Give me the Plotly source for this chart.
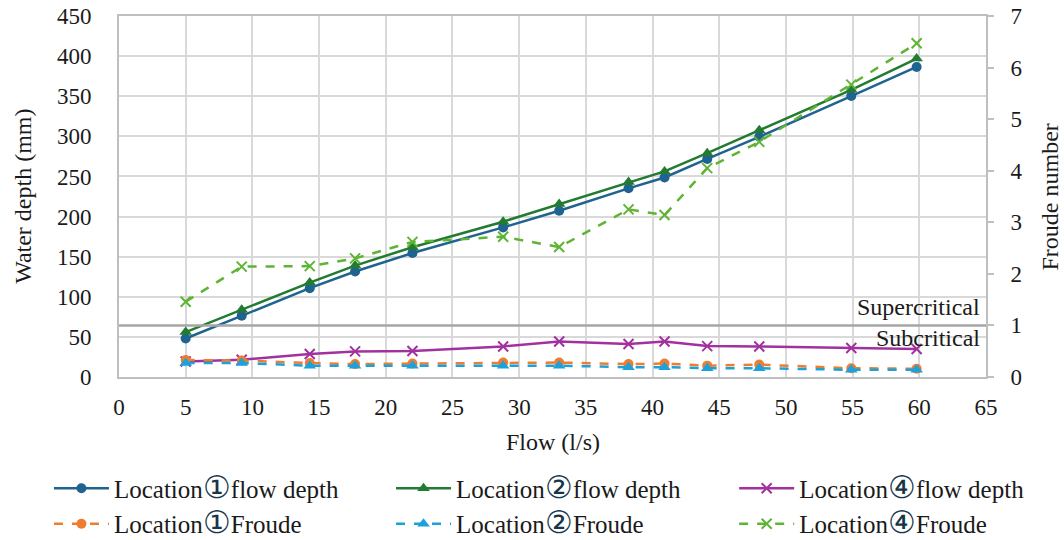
import plotly.graph_objects as go

flow = [5, 9.2, 14.3, 17.7, 22.0, 28.8, 33.0, 38.2, 40.9, 44.1, 48.0, 54.9, 59.8]

loc1_depth = [48, 76.5, 110.7, 131.5, 154.5, 186.5, 207.2, 235.2, 248.7, 271.8, 299.4, 350.2, 386.5]
loc2_depth = [56, 83.7, 117.7, 138.9, 161.8, 193.6, 215.7, 243.0, 256.3, 279.0, 307.7, 358.0, 397.0]
loc4_depth = [19.4, 21.5, 28.6, 31.9, 32.5, 38.1, 44.3, 41.1, 44.3, 38.5, 38.1, 36.1, 34.8]

loc1_froude = [0.33, 0.32, 0.27, 0.25, 0.26, 0.28, 0.28, 0.25, 0.26, 0.22, 0.24, 0.17, 0.16]
loc2_froude = [0.27, 0.27, 0.22, 0.22, 0.22, 0.22, 0.22, 0.19, 0.19, 0.17, 0.17, 0.14, 0.14]
loc4_froude = [1.46, 2.14, 2.15, 2.30, 2.62, 2.72, 2.52, 3.25, 3.14, 4.05, 4.56, 5.67, 6.47]

x_ticks = list(range(0, 70, 5))
depth_ticks = list(range(0, 500, 50))
froude_ticks = list(range(0, 8))

FONT = "'Liberation Serif', 'Times New Roman', 'DejaVu Serif', serif"
TXT = "#1a1a1a"


def circ(n):
    return ("Location<span style='font-size:31px;color:#17364a'>" + n + "</span>")


names = [
    circ("\u2460") + "flow depth",
    circ("\u2461") + "flow depth",
    circ("\u2463") + "flow depth",
    circ("\u2460") + "Froude",
    circ("\u2461") + "Froude",
    circ("\u2463") + "Froude",
]

fig = go.Figure()

fig.add_trace(go.Scatter(x=flow, y=loc1_depth, name=names[0], mode="lines+markers", legend="legend",
                         line=dict(color="#1f6391", width=2.5),
                         marker=dict(symbol="circle", size=10, color="#1f6391")))
fig.add_trace(go.Scatter(x=flow, y=loc2_depth, name=names[1], mode="lines+markers", legend="legend2",
                         line=dict(color="#237a31", width=2.5),
                         marker=dict(symbol="triangle-up", size=11, color="#237a31")))
fig.add_trace(go.Scatter(x=flow, y=loc4_depth, name=names[2], mode="lines+markers", legend="legend3",
                         line=dict(color="#a2319f", width=2.5),
                         marker=dict(symbol="x-thin-open", size=10,
                                     line=dict(color="#a2319f", width=2))))
fig.add_trace(go.Scatter(x=flow, y=loc1_froude, name=names[3], mode="lines+markers", yaxis="y2",
                         legend="legend",
                         line=dict(color="#ed7d31", width=2.5, dash="dash"),
                         marker=dict(symbol="circle", size=10, color="#ed7d31")))
fig.add_trace(go.Scatter(x=flow, y=loc2_froude, name=names[4], mode="lines+markers", yaxis="y2",
                         legend="legend2",
                         line=dict(color="#1ea1d8", width=2.5, dash="dash"),
                         marker=dict(symbol="triangle-up", size=11, color="#1ea1d8")))
fig.add_trace(go.Scatter(x=flow, y=loc4_froude, name=names[5], mode="lines+markers", yaxis="y2",
                         legend="legend3",
                         line=dict(color="#5eb434", width=2.5, dash="dash"),
                         marker=dict(symbol="x-thin-open", size=10,
                                     line=dict(color="#5eb434", width=2))))

fig.add_shape(type="line", xref="paper", yref="y2", x0=0, x1=1, y0=1, y1=1,
              line=dict(color="#a6a6a6", width=2.5), layer="above")

fig.add_annotation(text="Supercritical", xref="paper", yref="y2", x=0.995, y=1, yshift=3,
                   xanchor="right", yanchor="bottom", showarrow=False,
                   font=dict(family=FONT, size=24, color=TXT))
fig.add_annotation(text="Subcritical", xref="paper", yref="y2", x=0.995, y=1, yshift=2,
                   xanchor="right", yanchor="top", showarrow=False,
                   font=dict(family=FONT, size=24, color=TXT))

# axis titles
fig.add_annotation(text="Water depth (mm)", xref="paper", yref="paper", x=-0.1115, y=0.5,
                   xanchor="center", yanchor="middle", textangle=-90, showarrow=False,
                   font=dict(family=FONT, size=24, color=TXT))
fig.add_annotation(text="Froude number", xref="paper", yref="paper", x=1.0738, y=0.5,
                   xanchor="center", yanchor="middle", textangle=-90, showarrow=False,
                   font=dict(family=FONT, size=24, color=TXT))
fig.add_annotation(text="Flow (l/s)", xref="paper", yref="paper", x=0.5, y=-0.179,
                   xanchor="center", yanchor="middle", showarrow=False,
                   font=dict(family=FONT, size=24, color=TXT))

axis_common = dict(showline=True, linecolor="#bfbfbf", linewidth=2,
                   tickfont=dict(family=FONT, size=23, color=TXT), zeroline=False)

leg_common = dict(orientation="v", xref="container", yref="container", y=0.138,
                  xanchor="left", yanchor="top", traceorder="normal",
                  font=dict(family=FONT, size=25, color=TXT), tracegroupgap=0, itemwidth=55,
                  bgcolor="rgba(0,0,0,0)")

fig.update_layout(
    width=1064, height=540,
    margin=dict(l=119, r=78, t=16, b=163, autoexpand=False),
    paper_bgcolor="white", plot_bgcolor="white",
    font=dict(family=FONT, color=TXT),
    xaxis=dict(range=[0, 65], tickvals=x_ticks, showgrid=True, gridcolor="#d9d9d9", gridwidth=1.5,
               mirror=True, ticklabelstandoff=8, automargin=False,
               **axis_common),
    yaxis=dict(range=[0, 450], tickvals=depth_ticks, showgrid=True, gridcolor="#d9d9d9", gridwidth=1.5,
               ticklabelstandoff=21, automargin=False,
               **axis_common),
    yaxis2=dict(range=[0, 7], tickvals=froude_ticks, overlaying="y", side="right", showgrid=False,
                ticks="outside", ticklen=6, tickcolor="#bfbfbf", tickwidth=1.5, automargin=False,
                ticklabelstandoff=12,
                **axis_common),
    showlegend=True,
    legend=dict(x=0.046, **leg_common),
    legend2=dict(x=0.3675, **leg_common),
    legend3=dict(x=0.690, **leg_common),
)

fig.write_html("out.html")
